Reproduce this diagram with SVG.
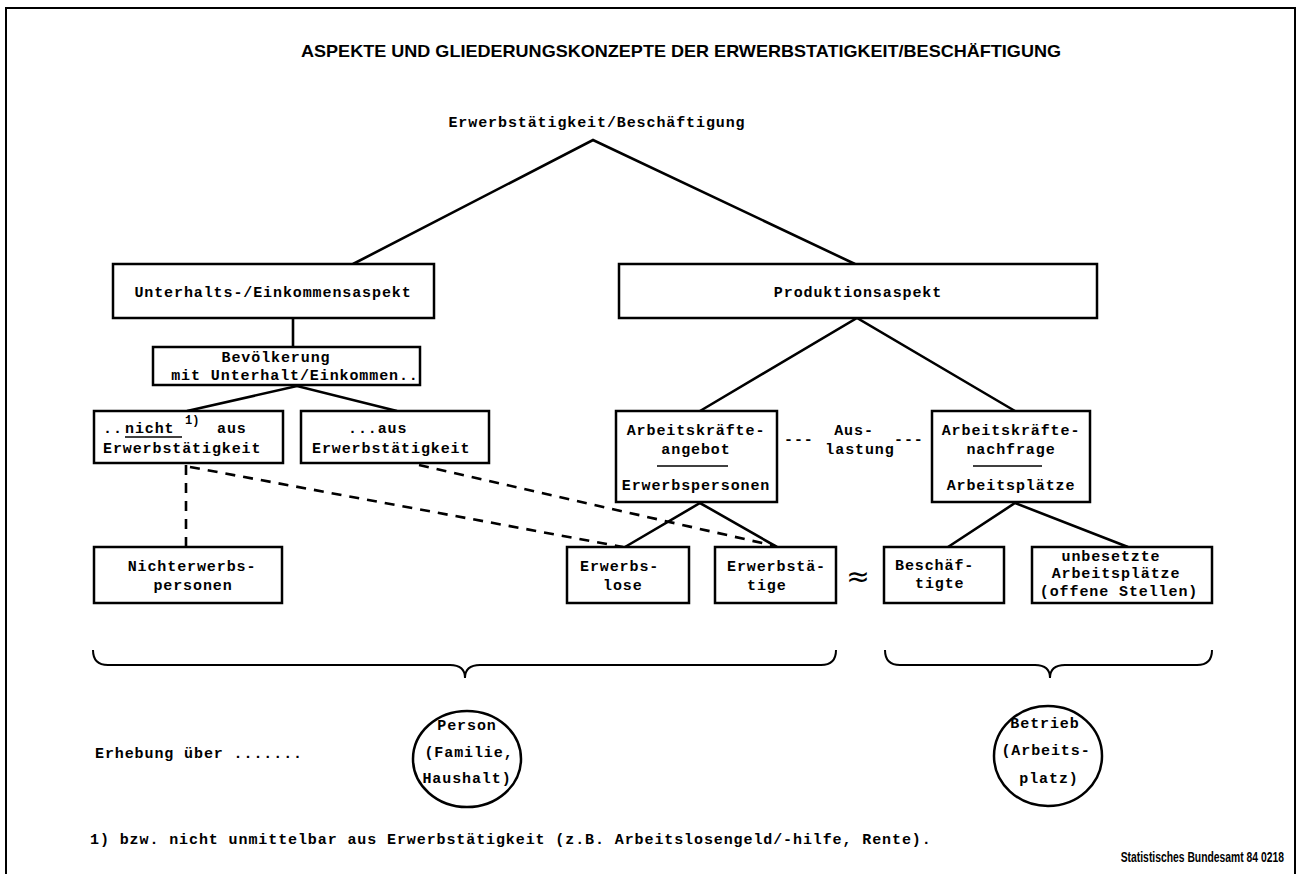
<svg xmlns="http://www.w3.org/2000/svg" width="1302" height="874" viewBox="0 0 1302 874">
<style>
.bg{fill:#fff}
.frame{fill:none;stroke:#000;stroke-width:2}
.box{fill:#fff;stroke:#000;stroke-width:2.5}
.ln{fill:none;stroke:#000;stroke-width:2.6}
.dash{fill:none;stroke:#000;stroke-width:2.6;stroke-dasharray:10 8}
.br{fill:none;stroke:#000;stroke-width:2}
.t{font-family:"Liberation Mono","DejaVu Sans Mono",monospace;font-weight:bold;font-size:15px;letter-spacing:0.9px;fill:#000}
.c{text-anchor:middle}
.title{font-family:"Liberation Sans","Arial",sans-serif;font-weight:bold;font-size:17px;fill:#000}
.foot{font-family:"Liberation Sans","Arial",sans-serif;font-weight:bold;font-size:14px;fill:#000}
</style>
<rect class="bg" x="0" y="0" width="1302" height="874"/>
<path class="frame" d="M6,874 V8 H1295 V874"/>
<text class="title" x="681" y="57" text-anchor="middle" textLength="760" lengthAdjust="spacingAndGlyphs">ASPEKTE UND GLIEDERUNGSKONZEPTE DER ERWERBSTATIGKEIT/BESCHÄFTIGUNG</text>

<g id="connectors">
<polyline class="ln" points="353,264 593,140 855,264"/>
<line class="ln" x1="293" y1="318" x2="293" y2="347"/>
<polyline class="ln" points="187,411 297,386 397,411"/>
<polyline class="ln" points="700,411 857,318 1015,411"/>
<polyline class="ln" points="625,547 700,503 777,547"/>
<polyline class="ln" points="948,547 1015,503 1128,547"/>
<line class="dash" x1="186" y1="465" x2="186" y2="547"/>
<line class="dash" x1="190" y1="467" x2="623" y2="547"/>
<line class="dash" x1="419" y1="465" x2="775" y2="546"/>
</g>

<g id="root"><text class="t c" x="597" y="127">Erwerbstätigkeit/Beschäftigung</text></g>

<g id="unterhalt">
<rect class="box" x="113" y="264" width="321" height="54"/>
<text class="t c" x="273" y="297">Unterhalts-/Einkommensaspekt</text>
</g>
<g id="produktion">
<rect class="box" x="619" y="264" width="478" height="54"/>
<text class="t c" x="858" y="297">Produktionsaspekt</text>
</g>
<g id="bevoelkerung">
<rect class="box" x="153" y="347" width="267" height="38"/>
<text class="t c" x="276" y="362">Bevölkerung</text>
<text class="t c" x="295" y="380">mit Unterhalt/Einkommen..</text>
</g>
<g id="nicht-aus">
<rect class="box" x="94" y="411" width="189" height="52"/>
<text class="t" x="103" y="433">..</text>
<text class="t" x="125" y="433">nicht</text>
<line x1="125" y1="437" x2="182" y2="437" stroke="#000" stroke-width="1.5"/>
<text class="t" x="185" y="424" style="font-size:12px;letter-spacing:0">1)</text>
<text class="t" x="217" y="433">aus</text>
<text class="t" x="103" y="453">Erwerbstätigkeit</text>
</g>
<g id="aus">
<rect class="box" x="301" y="411" width="188" height="52"/>
<text class="t" x="348" y="433">...aus</text>
<text class="t" x="312" y="453">Erwerbstätigkeit</text>
</g>
<g id="angebot">
<rect class="box" x="616" y="411" width="161" height="91"/>
<text class="t c" x="696" y="435">Arbeitskräfte-</text>
<text class="t c" x="696" y="454">angebot</text>
<line x1="657" y1="466" x2="728" y2="466" stroke="#000" stroke-width="1.5"/>
<text class="t c" x="696" y="490">Erwerbspersonen</text>
</g>
<g id="auslastung">
<text class="t" x="784" y="444">---</text>
<text class="t c" x="854" y="435">Aus-</text>
<text class="t c" x="860" y="454">lastung</text>
<text class="t" x="894" y="444">---</text>
</g>
<g id="nachfrage">
<rect class="box" x="932" y="411" width="158" height="91"/>
<text class="t c" x="1011" y="435">Arbeitskräfte-</text>
<text class="t c" x="1011" y="454">nachfrage</text>
<line x1="973" y1="466" x2="1042" y2="466" stroke="#000" stroke-width="1.5"/>
<text class="t c" x="1011" y="490">Arbeitsplätze</text>
</g>
<g id="nichterwerbspersonen">
<rect class="box" x="94" y="547" width="188" height="56"/>
<text class="t c" x="192" y="571">Nichterwerbs-</text>
<text class="t c" x="193" y="590">personen</text>
</g>
<g id="erwerbslose">
<rect class="box" x="567" y="547" width="122" height="56"/>
<text class="t" x="580" y="571">Erwerbs-</text>
<text class="t" x="603" y="590">lose</text>
</g>
<g id="erwerbstaetige">
<rect class="box" x="715" y="547" width="121" height="56"/>
<text class="t" x="727" y="571">Erwerbstä-</text>
<text class="t" x="747" y="590">tige</text>
</g>
<text x="858" y="586" text-anchor="middle" style="font-family:'DejaVu Sans',sans-serif;font-size:28px">≈</text>
<g id="beschaeftigte">
<rect class="box" x="884" y="547" width="120" height="56"/>
<text class="t" x="895" y="570">Beschäf-</text>
<text class="t" x="915" y="588">tigte</text>
</g>
<g id="unbesetzte">
<rect class="box" x="1032" y="547" width="180" height="56"/>
<text class="t c" x="1111" y="561">unbesetzte</text>
<text class="t c" x="1116" y="578">Arbeitsplätze</text>
<text class="t c" x="1119" y="596">(offene Stellen)</text>
</g>

<g id="braces">
<path class="br" d="M93,650 Q93,665 108,665 H450 Q465,665 465,678 Q465,665 480,665 H821 Q836,665 836,650"/>
<path class="br" d="M885,650 Q885,665 900,665 H1035 Q1050,665 1050,678 Q1050,665 1065,665 H1197 Q1212,665 1212,650"/>
</g>
<g id="person">
<ellipse class="box" cx="467" cy="759" rx="54" ry="48"/>
<text class="t c" x="467" y="730">Person</text>
<text class="t c" x="469" y="757">(Familie,</text>
<text class="t c" x="467" y="783">Haushalt)</text>
</g>
<g id="betrieb">
<ellipse class="box" cx="1048" cy="756" rx="54" ry="50"/>
<text class="t c" x="1045" y="728">Betrieb</text>
<text class="t c" x="1046" y="755">(Arbeits-</text>
<text class="t c" x="1049" y="783">platz)</text>
</g>
<text class="t" x="95" y="758">Erhebung über .......</text>
<text class="t" x="90" y="844">1) bzw. nicht unmittelbar aus Erwerbstätigkeit (z.B. Arbeitslosengeld/-hilfe, Rente).</text>
<text class="foot" transform="translate(1284 862) scale(0.74 1)" x="0" y="0" text-anchor="end">Statistisches Bundesamt 84 0218</text>
</svg>
